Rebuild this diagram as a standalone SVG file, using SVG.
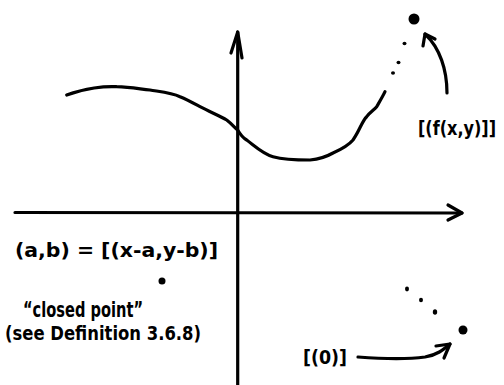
<svg xmlns="http://www.w3.org/2000/svg" width="504" height="385" viewBox="0 0 504 385">
<style>
.ln{fill:none;stroke:#000;stroke-width:3.2;stroke-linecap:round;stroke-linejoin:round}
.t{font-family:"DejaVu Sans Condensed","DejaVu Sans",sans-serif;font-weight:bold;fill:#000}
</style>
<rect width="504" height="385" fill="#fff"/>
<g id="axes">
<path class="ln" d="M15,212.5 L462,213"/>
<path class="ln" d="M448,205 L462,213 L448,220"/>
<path class="ln" d="M237.7,385 L237.7,32"/>
<path class="ln" d="M231,53 L237.7,32 L242,58"/>
</g>
<g id="curve">
<path class="ln" d="M66.7,95 C85,88 105,86 116.7,86.7 C130,87 140,89 150,90 C162,92 172,93 180,96.7 C188,100 195,104 200,106.7 C210,112 220,116 226.7,120 C232,124 235,128 237.7,130 C240,134 243,138 246.7,140 C256,147 263,154 273,156.7 C285,160 300,160 310,160 C320,159 326,157 333,153 C342,149 348,146 353,140 C360,130 362,121 366.7,116.7 C370,112 374,110 376.7,106.7 C380,101 383,96 385,91.7"/>
</g>
<g id="top-point">
<ellipse cx="393" cy="73" rx="2" ry="1.8"/>
<ellipse cx="398.5" cy="62.5" rx="2" ry="1.8"/>
<ellipse cx="404.5" cy="43.5" rx="2" ry="1.8"/>
<circle cx="414" cy="19" r="5.5"/>
</g>
<g id="bottom-point">
<ellipse cx="407" cy="289" rx="2" ry="2.4"/>
<ellipse cx="421" cy="300" rx="2" ry="2.2"/>
<ellipse cx="435" cy="312" rx="2.2" ry="2.8"/>
<circle cx="463" cy="330" r="4.5"/>
</g>
<g id="closed-point">
<circle cx="162" cy="281" r="3.5"/>
</g>
<g id="connectors">
<path class="ln" d="M447,93 C447,70 440,48 425,34"/>
<path class="ln" d="M423,46 L425,34 L435,39"/>
<path class="ln" d="M358,357 C385,359 410,359 425,357 C437,355 443,350 450,344"/>
<path class="ln" d="M436,346 L450,344 L444,358"/>
</g>
<g id="labels">
<text class="t" x="418" y="135" font-size="20" textLength="78" lengthAdjust="spacingAndGlyphs">[(f(x,y)]]</text>
<text class="t" x="15" y="257" font-size="20" textLength="203" lengthAdjust="spacingAndGlyphs">(a,b) = [(x-a,y-b)]</text>
<text class="t" x="23" y="317" font-size="21" textLength="120" lengthAdjust="spacingAndGlyphs">“closed point”</text>
<text class="t" x="5" y="340" font-size="20" textLength="196" lengthAdjust="spacingAndGlyphs">(see Definition 3.6.8)</text>
<text class="t" x="303" y="364" font-size="19" textLength="44" lengthAdjust="spacingAndGlyphs">[(0)]</text>
</g>
</svg>
